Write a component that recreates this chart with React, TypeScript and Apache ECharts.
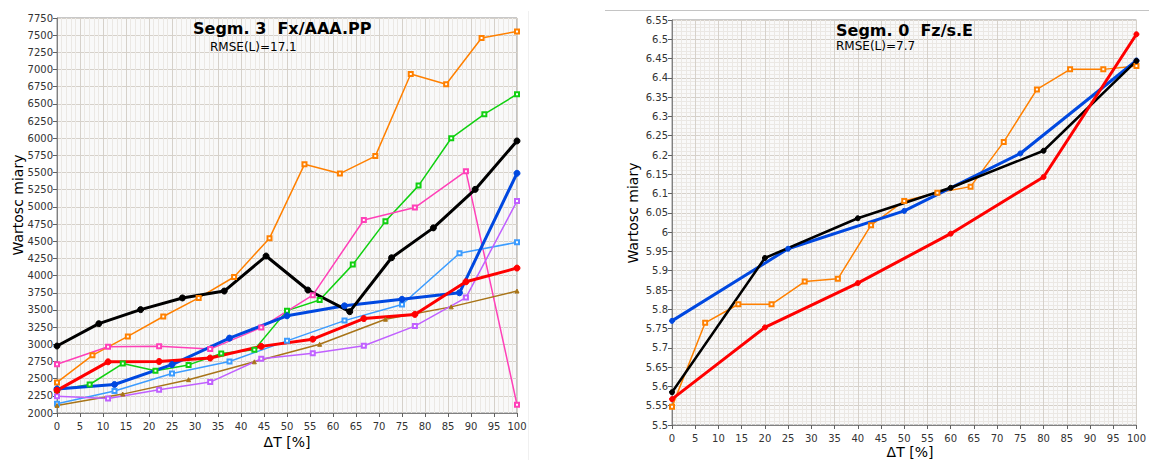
import React, { useEffect, useRef } from "react";
import * as echarts from "echarts";

// ---- Left chart: Segm. 3 Fx/AAA.PP ----
const L_orangeX = [0, 7.7, 15.4, 23.1, 30.8, 38.5, 46.2, 53.8, 61.5, 69.2, 76.9, 84.6, 92.3, 100];
const L_orangeY = [2445, 2840, 3115, 3405, 3675, 3980, 4545, 5620, 5485, 5740, 6935, 6785, 7460, 7555];
const L_greenX = [0, 7.1, 14.3, 21.4, 28.6, 35.7, 42.9, 50, 57.1, 64.3, 71.4, 78.6, 85.7, 92.9, 100];
const L_greenY = [2335, 2415, 2720, 2615, 2700, 2865, 2920, 3490, 3645, 4160, 4790, 5310, 6000, 6350, 6640];
const L_pinkX = [0, 11.1, 22.2, 33.3, 44.4, 55.6, 66.7, 77.8, 88.9, 100];
const L_pinkY = [2710, 2965, 2970, 2930, 3245, 3715, 4810, 4990, 5520, 2120];
const L_lightBlueX = [0, 12.5, 25, 37.5, 50, 62.5, 75, 87.5, 100];
const L_lightBlueY = [2135, 2320, 2575, 2750, 3050, 3345, 3580, 4325, 4485];
const L_brownX = [0, 14.3, 28.6, 42.9, 57.1, 71.4, 85.7, 100];
const L_brownY = [2110, 2275, 2485, 2745, 3000, 3365, 3545, 3775];
const L_purpleX = [0, 11.1, 22.2, 33.3, 44.4, 55.6, 66.7, 77.8, 88.9, 100];
const L_purpleY = [2245, 2210, 2340, 2450, 2790, 2870, 2980, 3265, 3680, 5085];
const L_blueX = [0, 12.5, 25, 37.5, 50, 62.5, 75, 87.5, 100];
const L_blueY = [2350, 2415, 2705, 3090, 3415, 3560, 3655, 3750, 5490];
const L_redX = [0, 11.1, 22.2, 33.3, 44.4, 55.6, 66.7, 77.8, 88.9, 100];
const L_redY = [2330, 2745, 2750, 2800, 2970, 3075, 3375, 3435, 3910, 4110];
const L_blackX = [0, 9.09, 18.18, 27.27, 36.36, 45.45, 54.55, 63.64, 72.73, 81.82, 90.91, 100];
const L_blackY = [2975, 3300, 3505, 3675, 3775, 4285, 3790, 3475, 4260, 4695, 5255, 5960];

// ---- Right chart: Segm. 0 Fz/s.E ----
const R_orangeX = [0, 7.14, 14.29, 21.43, 28.57, 35.71, 42.86, 50, 57.14, 64.29, 71.43, 78.57, 85.71, 92.86, 100];
const R_orangeY = [5.547, 5.765, 5.813, 5.813, 5.872, 5.879, 6.018, 6.081, 6.102, 6.118, 6.234, 6.37, 6.422, 6.422, 6.431];
const R_blueX = [0, 25, 50, 75, 100];
const R_blueY = [5.77, 5.957, 6.055, 6.204, 6.445];
const R_blackX = [0, 20, 40, 60, 80, 100];
const R_blackY = [5.585, 5.933, 6.036, 6.115, 6.211, 6.444];
const R_redX = [0, 20, 40, 60, 80, 100];
const R_redY = [5.567, 5.753, 5.868, 5.996, 6.143, 6.513];

const xTicks = { min: 0, max: 100, interval: 5 };
const leftY = { min: 2000, max: 7750, interval: 250 };
const rightY = { min: 5.5, max: 6.55, interval: 0.05 };

const FONT = "DejaVu Sans";

function pairs(xs: number[], ys: number[]) {
  return xs.map((x, i) => [x, ys[i]]);
}

function fmt(v: number) {
  return String(Math.round(v * 1000) / 1000);
}

function line(
  name: string,
  idx: number,
  xs: number[],
  ys: number[],
  color: string,
  width: number,
  symbol: string,
  size: number
) {
  return {
    name,
    type: "line",
    xAxisIndex: idx,
    yAxisIndex: idx,
    data: pairs(xs, ys),
    symbol,
    symbolSize: size,
    showSymbol: true,
    lineStyle: { color, width },
    itemStyle: { color, borderColor: color, borderWidth: 1 },
    emphasis: { disabled: true },
  };
}

function xAxis(gridIndex: number, margin: number) {
  return {
    type: "value",
    gridIndex,
    ...xTicks,
    axisLine: { show: true, lineStyle: { color: "#808080", width: 1 } },
    axisTick: { show: true, length: 4, lineStyle: { color: "#606060" } },
    axisLabel: { color: "#333", fontFamily: FONT, fontSize: 10, margin, formatter: fmt },
    splitLine: { show: true, lineStyle: { color: "#d6d1ca", width: 1 } },
    minorTick: { show: false, splitNumber: 5 },
    minorSplitLine: { show: true, lineStyle: { color: "#ebe8e4", width: 1 } },
  };
}

function yAxis(gridIndex: number, range: any, minor: boolean) {
  return {
    type: "value",
    gridIndex,
    ...range,
    axisLine: { show: true, lineStyle: { color: "#808080", width: 1 } },
    axisTick: { show: true, length: 4, lineStyle: { color: "#606060" } },
    axisLabel: { color: "#333", fontFamily: FONT, fontSize: 10, margin: 4, formatter: fmt },
    splitLine: { show: true, lineStyle: { color: "#d6d1ca", width: 1 } },
    minorTick: { show: false, splitNumber: 5 },
    minorSplitLine: { show: minor, lineStyle: { color: "#ebe8e4", width: 1 } },
  };
}

export default function App() {
  const ref = useRef<HTMLDivElement>(null);
  useEffect(() => {
    if (!ref.current) return;
    const chart = echarts.init(ref.current, undefined, { renderer: "svg" });
    const option: any = {
      animation: false,
      backgroundColor: "#ffffff",
      grid: [
        { left: 57, top: 18, width: 460, height: 395, show: true, backgroundColor: "#f9f9f9", borderColor: "#909090", borderWidth: 1 },
        { left: 672, top: 20, width: 475, height: 405, show: true, backgroundColor: "#f9f9f9", borderColor: "#909090", borderWidth: 1 },
      ],
      xAxis: [xAxis(0, 8), xAxis(1, 8)],
      yAxis: [yAxis(0, leftY, false), yAxis(1, rightY, true)],
      series: [
        line("orange", 0, L_orangeX, L_orangeY, "#ff8000", 1.5, "emptyRect", 4),
        line("green", 0, L_greenX, L_greenY, "#10d010", 1.5, "emptyRect", 4),
        line("pink", 0, L_pinkX, L_pinkY, "#ff40b8", 1.5, "emptyRect", 4),
        line("lightblue", 0, L_lightBlueX, L_lightBlueY, "#3c9cff", 1.5, "emptyRect", 4),
        line("brown", 0, L_brownX, L_brownY, "#a87418", 1.5, "triangle", 4),
        line("purple", 0, L_purpleX, L_purpleY, "#c060ff", 1.5, "emptyRect", 4),
        line("blue", 0, L_blueX, L_blueY, "#0048e0", 3, "circle", 6),
        line("red", 0, L_redX, L_redY, "#ff0000", 3, "circle", 6),
        line("black", 0, L_blackX, L_blackY, "#000000", 3, "circle", 6),
        line("orange", 1, R_orangeX, R_orangeY, "#ff8000", 1.5, "emptyRect", 4),
        line("blue", 1, R_blueX, R_blueY, "#0048e0", 3, "circle", 5),
        line("black", 1, R_blackX, R_blackY, "#000000", 2.5, "circle", 5),
        line("red", 1, R_redX, R_redY, "#ff0000", 3, "circle", 5),
      ],
      graphic: [
        { type: "line", shape: { x1: 605, y1: 10.5, x2: 1149, y2: 10.5 }, style: { stroke: "#c4c4c4", lineWidth: 1 }, z: 0 },
        { type: "line", shape: { x1: 528.5, y1: 11, x2: 528.5, y2: 460 }, style: { stroke: "#f0f0f0", lineWidth: 1 }, z: 0 },
        { type: "text", left: 193, top: 20, style: { text: "Segm. 3  Fx/AAA.PP", font: `bold 16px "${FONT}"`, fill: "#000" }, z: 10 },
        { type: "text", left: 210, top: 41, style: { text: "RMSE(L)=17.1", font: `12px "${FONT}"`, fill: "#000" }, z: 10 },
        { type: "text", left: 836, top: 22, style: { text: "Segm. 0  Fz/s.E", font: `bold 16px "${FONT}"`, fill: "#000" }, z: 10 },
        { type: "text", left: 836, top: 40, style: { text: "RMSE(L)=7.7", font: `12px "${FONT}"`, fill: "#000" }, z: 10 },
        { type: "text", x: 18, y: 205, rotation: Math.PI / 2, style: { text: "Wartosc miary", font: `14px "${FONT}"`, fill: "#000", align: "center", verticalAlign: "middle" }, z: 10 },
        { type: "text", x: 633, y: 213, rotation: Math.PI / 2, style: { text: "Wartosc miary", font: `14px "${FONT}"`, fill: "#000", align: "center", verticalAlign: "middle" }, z: 10 },
        { type: "text", x: 287, y: 442, style: { text: "ΔT [%]", font: `14px "${FONT}"`, fill: "#000", align: "center", verticalAlign: "middle" }, z: 10 },
        { type: "text", x: 910, y: 452, style: { text: "ΔT [%]", font: `14px "${FONT}"`, fill: "#000", align: "center", verticalAlign: "middle" }, z: 10 },
      ],
    };
    chart.setOption(option);
    return () => chart.dispose();
  }, []);
  return (
    <div
      ref={ref}
      style={{ position: "absolute", left: 0, top: 0, width: 1149, height: 460 }}
    />
  );
}
